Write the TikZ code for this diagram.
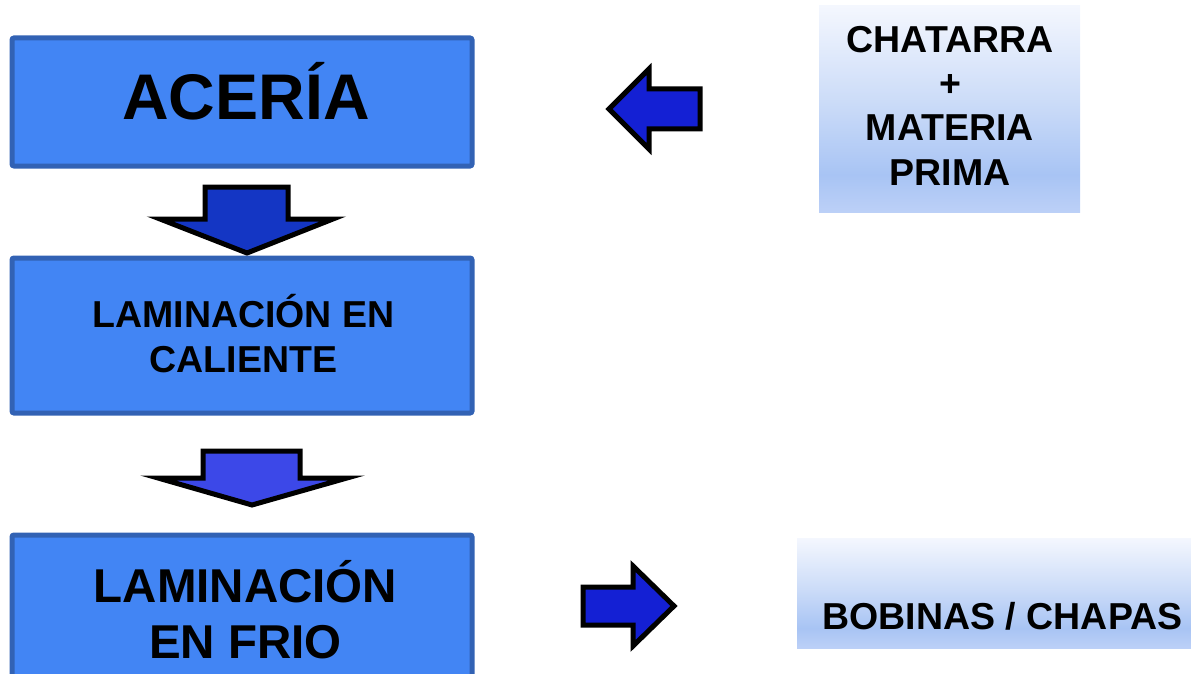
\documentclass[tikz,border=0pt]{standalone}
\usepackage{fontspec}
\setmainfont{Liberation Sans}
\definecolor{boxfill}{HTML}{4285F4}
\definecolor{boxline}{HTML}{3262B4}
\definecolor{arrA}{HTML}{1436C4}
\definecolor{arrB}{HTML}{3C48E8}
\definecolor{arrC}{HTML}{1420D4}
\definecolor{shA}{HTML}{BCD0F7}
\definecolor{shB}{HTML}{A8C4F4}
\definecolor{shC}{HTML}{CCDCF8}
\definecolor{shD}{HTML}{F4F7FE}
\pgfdeclareverticalshading{paleblue}{100bp}{
  color(0bp)=(shA); color(25bp)=(shA); color(34bp)=(shB); color(52bp)=(shC); color(75bp)=(shD); color(100bp)=(shD)}
\tikzset{
  stepbox/.style={draw=boxline, line width=5pt, fill=boxfill, rounded corners=2pt, inner sep=0pt},
  steptext/.style={align=center, inner sep=0pt, anchor=base},
  srcbox/.style={shading=paleblue, inner sep=0pt},
  blockarrow/.style={draw=black, line width=5pt, line join=miter}
}
\begin{document}
\begin{tikzpicture}[x=1pt,y=-1pt]
\useasboundingbox (0,0) rectangle (1191,674);
% main boxes
\path[stepbox] (12,38) rectangle (472,166);
\path[stepbox] (12,258) rectangle (472,413);
\path[stepbox] (12,535) rectangle (472,690);
\node[steptext, font=\fontsize{64.5}{70}\selectfont\bfseries] (aceria) at (246,120) {ACERÍA};
\node[steptext, font=\fontsize{37.5}{45}\selectfont\bfseries] (caliente) at (243.5,372) {LAMINACIÓN EN\\CALIENTE};
\node[steptext, font=\fontsize{47.5}{56}\selectfont\bfseries] (frio) at (245.5,658) {LAMINACIÓN\\EN FRIO};
% side boxes
\path[srcbox] (819,6) rectangle (1080,212);
\path[srcbox] (797,538) rectangle (1191,648);
\node[steptext, font=\fontsize{37.5}{44.5}\selectfont\bfseries] (chatarra) at (950,185.5) {CHATARRA\\+\\MATERIA\\PRIMA};
\node[steptext, font=\fontsize{37.5}{44}\selectfont\bfseries] (bobinas) at (1002.5,629) {BOBINAS / CHAPAS};
% block arrows
\filldraw[blockarrow, fill=arrA] (205,187) -- (288,187) -- (288,219) -- (333,219) -- (247,253) -- (160,219) -- (205,219) -- cycle;
\filldraw[blockarrow, fill=arrB] (203,451) -- (300,451) -- (300,478) -- (347,478) -- (252,505) -- (158,478) -- (203,478) -- cycle;
\filldraw[blockarrow, fill=arrC] (700,89) -- (700,129) -- (649,129) -- (649,149) -- (609,109) -- (649,69) -- (649,89) -- cycle;
\filldraw[blockarrow, fill=arrC] (583,587) -- (633,587) -- (633,566) -- (674,606) -- (633,646) -- (633,625) -- (583,625) -- cycle;
\end{tikzpicture}
\end{document}
